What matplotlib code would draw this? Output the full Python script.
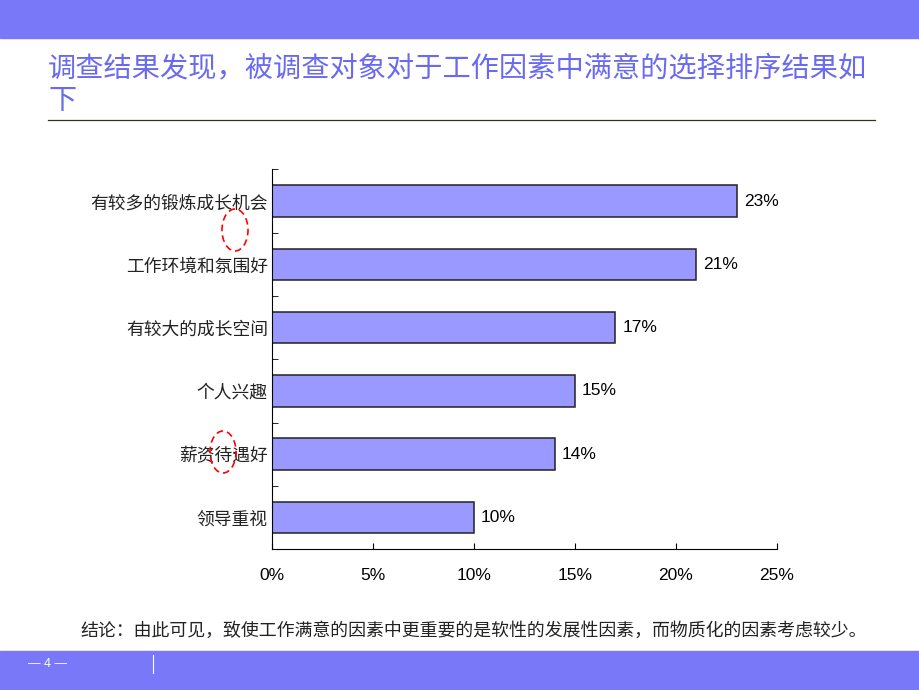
import matplotlib
matplotlib.use("Agg")
from matplotlib import pyplot as plt
from matplotlib.patches import Ellipse, Rectangle
from matplotlib.lines import Line2D
from matplotlib.ticker import FuncFormatter, MultipleLocator

plt.rcParams['font.family'] = ['Noto Sans CJK SC', 'DejaVu Sans']

categories = ['有较多的锻炼成长机会', '工作环境和氛围好', '有较大的成长空间',
              '个人兴趣', '薪资待遇好', '领导重视']
values = [23, 21, 17, 15, 14, 10]
xticks = [0, 5, 10, 15, 20, 25]

title = '调查结果发现，被调查对象对于工作因素中满意的选择排序结果如\n下'
note = '结论：由此可见，致使工作满意的因素中更重要的是软性的发展性因素，而物质化的因素考虑较少。'

band = '#7878F8'
fig = plt.figure(figsize=(9.2, 6.9), dpi=100)

# top and bottom bands
fig.patches.append(Rectangle((0, 1 - 38/690), 1, 38/690, transform=fig.transFigure,
                             color=band, zorder=0))
fig.patches.append(Rectangle((0, 0), 1, 39/690, transform=fig.transFigure,
                             color=band, zorder=0))
fig.lines.append(Line2D([153/920, 153/920], [1 - 655/690, 1 - 673/690],
                        transform=fig.transFigure, color='white', lw=0.8))
fig.text(48/920, 1 - 664/690, '— 4 —', color='white', fontsize=9,
         ha='center', va='center', family=['Liberation Sans'])

fig.text(48/920, 1 - 85/690, title, color='#6A6AF0', fontsize=20.3,
         ha='left', va='center', linespacing=1.12)
fig.lines.append(Line2D([48/920, 875/920], [1 - 120/690, 1 - 120/690],
                        transform=fig.transFigure, color='#333322', lw=0.9))

ax = fig.add_axes([272/920, 1 - 549/690, 505/920, 379.5/690])
ypos = list(range(len(categories)))[::-1]
ax.barh(ypos, values, height=0.5, color='#9999FF', edgecolor='#222222', lw=1.1)
for y, v in zip(ypos, values):
    ax.text(v + 0.35, y, f'{v}%', va='center', ha='left', fontsize=12.5,
            family=['Liberation Sans'])

ax.set_xlim(0, 25)
ax.set_ylim(-0.5, len(categories) - 0.5)
ax.set_xticks(xticks)
ax.xaxis.set_major_formatter(FuncFormatter(lambda x, p: f'{x:.0f}%'))
for lab in ax.get_xticklabels():
    lab.set_family(['Liberation Sans'])
ax.tick_params(axis='x', direction='in', length=4, labelsize=12.5, pad=14)

ax.set_yticks(ypos)
ax.set_yticklabels(categories, fontsize=12.8, color='#222222')
ax.tick_params(axis='y', which='major', length=0, pad=3)
ax.yaxis.set_minor_locator(MultipleLocator(1, offset=0.5))
ax.tick_params(axis='y', which='minor', direction='in', length=4)

for s in ['top', 'right']:
    ax.spines[s].set_visible(False)

fig.text(80/920, 1 - 631/690, note, fontsize=12.9, ha='left', va='center',
         color='#222222')

# red dashed ellipses
for cx, cy in [(235, 230), (223, 452)]:
    fig.patches.append(Ellipse((cx/920, 1 - cy/690), 26/920, 42/690,
                               transform=fig.transFigure, fill=False,
                               edgecolor='red', ls=(0, (4, 2.5)), lw=1.2, zorder=5))

fig.savefig('out.png', dpi=100)
